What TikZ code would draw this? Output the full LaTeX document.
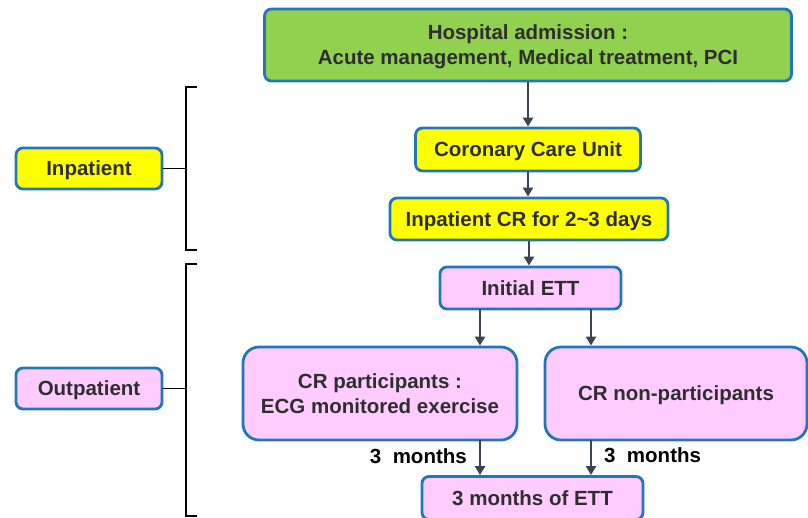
\documentclass[tikz,border=0pt]{standalone}
\usepackage{fontspec}
\setmainfont{Liberation Sans}
\usetikzlibrary{arrows.meta}
\definecolor{bord}{HTML}{2277BB}
\definecolor{grn}{HTML}{92D050}
\definecolor{yel}{HTML}{FFFF00}
\definecolor{pnk}{HTML}{FFCCFF}
\definecolor{txt}{HTML}{2E2E2E}
\definecolor{arr}{HTML}{3B4452}
\tikzset{
  box/.style={draw=bord, line width=2.8pt, rounded corners=7pt, text=txt,
    font=\fontsize{20.5}{24}\selectfont\bfseries, align=center, inner sep=0pt,
    text depth=0pt},
  bigbox/.style={box, rounded corners=16pt},
  flow/.style={draw=arr, line width=2.8pt, -{Triangle[length=9pt,width=10pt]}},
  brk/.style={draw=black, line width=1.5pt},
  lbl/.style={text=black, font=\fontsize{20.5}{24}\selectfont\bfseries, inner sep=0pt}
}
\begin{document}
\begin{tikzpicture}[x=1pt,y=-1pt]
\useasboundingbox[fill=white] (0,0) rectangle (808,518);
% main flow
\node[box, fill=grn, minimum width=527pt, minimum height=72pt] (adm) at (528,45)
  {Hospital admission :\\[1pt] Acute management, Medical treatment, PCI};
\node[box, fill=yel, minimum width=225pt, minimum height=43pt] (ccu) at (528,149.5) {Coronary Care Unit};
\node[box, fill=yel, minimum width=278pt, minimum height=42pt] (icr) at (529,219) {Inpatient CR for 2\textasciitilde3 days};
\node[box, fill=pnk, minimum width=181pt, minimum height=42pt] (ett) at (530.5,288) {Initial ETT};
\node[bigbox, fill=pnk, minimum width=274pt, minimum height=93pt] (crp) at (380,393.5)
  {CR participants :\\[1pt] ECG monitored exercise};
\node[bigbox, fill=pnk, minimum width=262pt, minimum height=93pt] (crn) at (676,393.5) {CR non-participants};
\node[box, fill=pnk, minimum width=221pt, minimum height=43pt] (ett3) at (532.5,498) {3 months of ETT};
% side labels
\node[box, fill=yel, minimum width=146pt, minimum height=41pt] (inp) at (89,168.5) {Inpatient};
\node[box, fill=pnk, minimum width=146pt, minimum height=41pt] (outp) at (89,388.5) {Outpatient};
% arrows
\draw[flow] (adm.south) -- (ccu.north);
\draw[flow] (ccu.south) -- (ccu.south |- icr.north);
\draw[flow] (icr.south) -- (icr.south |- ett.north);
\coordinate (e1) at (480,309);
\coordinate (e2) at (591,309);
\draw[flow] (e1) -- (e1 |- crp.north);
\draw[flow] (e2) -- (e2 |- crn.north);
\coordinate (p1) at (480,440);
\coordinate (p2) at (591,440);
\draw[flow] (p1) -- (p1 |- ett3.north);
\draw[flow] (p2) -- (p2 |- ett3.north);
\node[lbl, anchor=east] (m1) at (467,456) {3\; months};
\node[lbl, anchor=west] (m2) at (604,455) {3\; months};
% brackets
\coordinate (b1t) at (197,87);
\coordinate (b1b) at (197,250);
\draw[brk] (b1t) -- (186,87) -- (186,250) -- (b1b);
\draw[brk] (inp.east) -- (186,168.5);
\coordinate (b2t) at (197,264);
\coordinate (b2b) at (197,516);
\draw[brk] (b2t) -- (186,264) -- (186,516) -- (b2b);
\draw[brk] (outp.east) -- (186,388.5);
\end{tikzpicture}
\end{document}
